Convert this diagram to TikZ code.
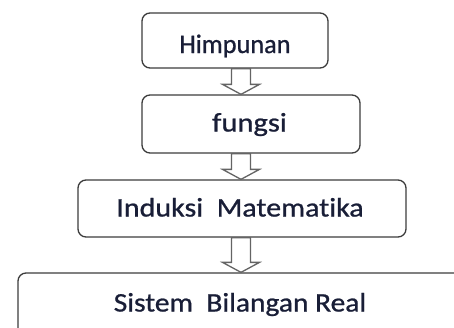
\documentclass[tikz,border=0pt]{standalone}
\usepackage{fontspec}
\setmainfont[Ligatures={NoCommon}, FakeBold=0.8]{Carlito}
\usetikzlibrary{calc}
\definecolor{boxline}{RGB}{60,60,60}
\definecolor{arrline}{RGB}{100,100,100}
\definecolor{txt}{RGB}{25,30,55}
\tikzset{
  flowbox/.style={draw=boxline, line width=1.3pt, rounded corners=8pt, fill=white,
    inner sep=0pt},
  lbl/.style={text=txt, font=\fontsize{26.8}{30}\selectfont, inner sep=0pt, anchor=base},
  blk/.style={draw=arrline, line width=1.3pt, fill=white, line join=miter},
}
\newcommand\blkarrow[2]{%
  \path (ax |- #1.south) coordinate (bs) (ax |- #2.north) coordinate (be);
  \draw[blk] ([xshift=-9.5pt]bs) -- ([xshift=-9.5pt,yshift=10pt]be) -- ([xshift=-18.5pt,yshift=10pt]be)
    -- (be) -- ([xshift=18.5pt,yshift=10pt]be) -- ([xshift=9.5pt,yshift=10pt]be) -- ([xshift=9.5pt]bs) -- cycle;
}
\begin{document}
\begin{tikzpicture}[x=1pt,y=-1pt]
\clip (0,0) rectangle (454,327);
\fill[white] (0,0) rectangle (454,327);
\coordinate (ax) at (241,0);
\node[flowbox, minimum width=186pt, minimum height=55pt] (b1) at (235,40.5) {};
\node[lbl] (t1) at (235,53) {\scalebox{0.98}[1]{Himpunan}};
\node[flowbox, minimum width=218pt, minimum height=58pt] (b2) at (251,124) {};
\node[lbl] (t2) at (249.5,131.5) {\scalebox{1.14}[1]{fungsi}};
\node[flowbox, minimum width=328pt, minimum height=57pt] (b3) at (242,208.5) {};
\node[lbl] (t3) at (240,216.5) {\scalebox{1.12}[1]{Induksi\ \ Matematika}};
\node[flowbox, minimum width=460pt, minimum height=70pt] (b4) at (248,308) {};
\node[lbl] (t4) at (240,311.5) {\scalebox{1.1}[1]{Sistem\ \ Bilangan Real}};
\blkarrow{b1}{b2}
\blkarrow{b2}{b3}
\blkarrow{b3}{b4}
\end{tikzpicture}
\end{document}
